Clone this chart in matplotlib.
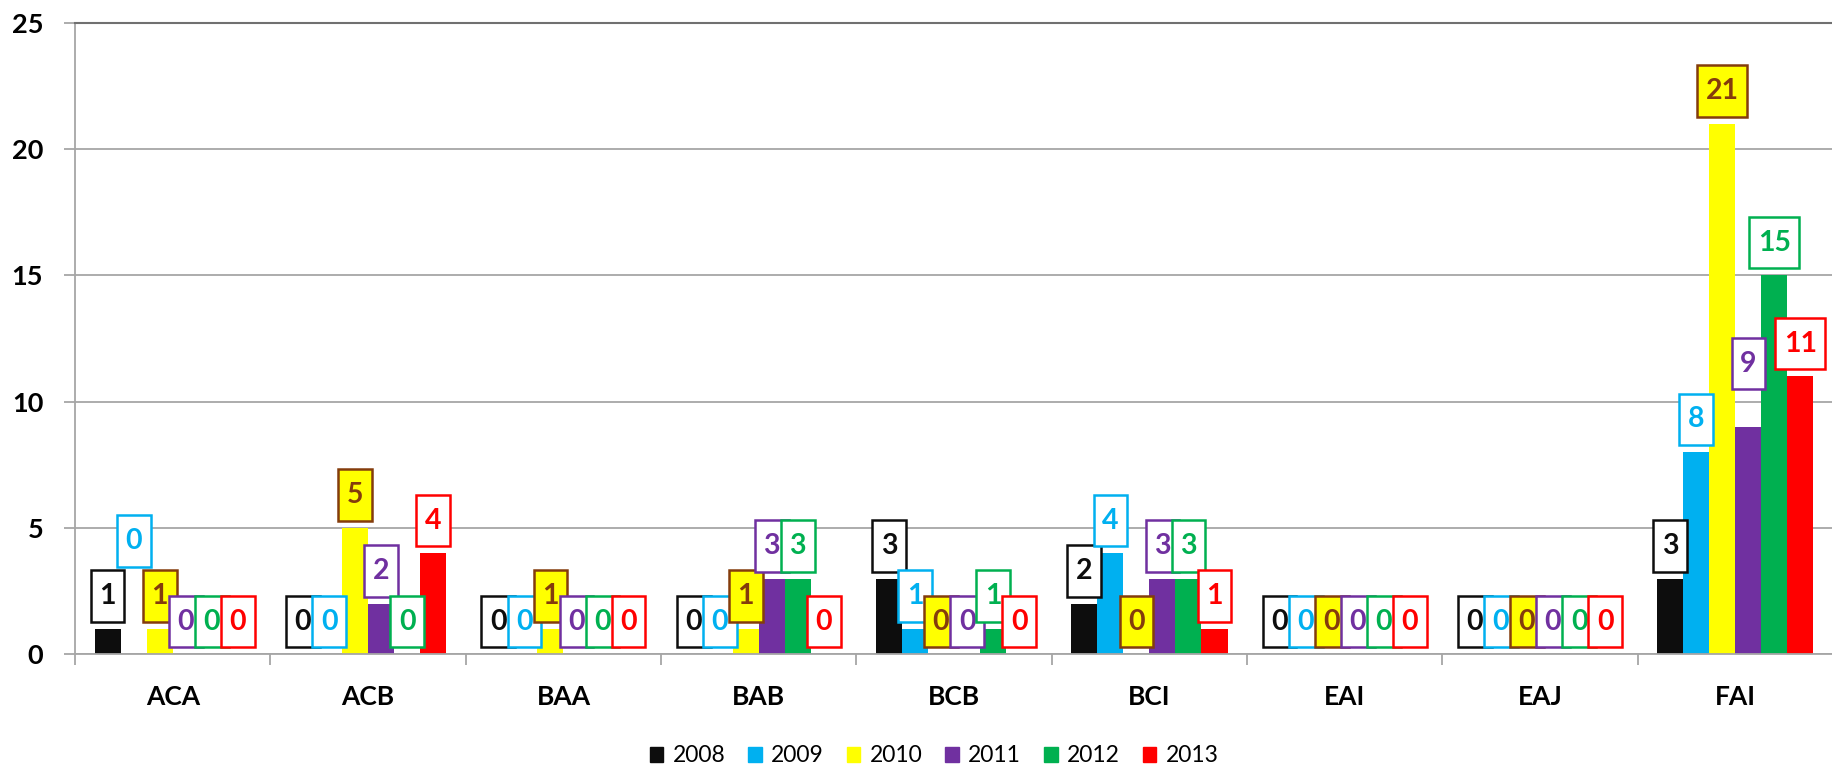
import numpy as np
import matplotlib.pyplot as plt
from matplotlib.patches import Patch
from matplotlib.path import Path

plt.rcParams['font.family'] = ['Lato', 'DejaVu Sans']

codes = ["ACA", "ACB", "BAA", "BAB", "BCB", "BCI", "EAI", "EAJ", "FAI"]
years = ["2008", "2009", "2010", "2011", "2012", "2013"]

v2008 = [1, 0, 0, 0, 3, 2, 0, 0, 3]
v2009 = [0, 0, 0, 0, 1, 4, 0, 0, 8]
v2010 = [1, 5, 1, 1, 0, 0, 0, 0, 21]
v2011 = [0, 2, 0, 3, 0, 3, 0, 0, 9]
v2012 = [0, 0, 0, 3, 1, 3, 0, 0, 15]
v2013 = [0, 4, 0, 0, 0, 1, 0, 0, 11]
series = [v2008, v2009, v2010, v2011, v2012, v2013]

bar_colors = ["#0D0D0D", "#00B0F0", "#FFFF00", "#7030A0", "#00B050", "#FF0000"]
brown = "#843C0C"

# a couple of labels were dragged by hand in the original (points)
label_nudge = {("ACA", "2009"): 58, ("FAI", "2011"): 22}

PADX, PADY = 0.3, 0.45


def label_box(x0, y0, width, height, mutation_size):
    # excel-like label frame: more room above/below than left/right
    px, py = PADX * mutation_size, PADY * mutation_size
    verts = [(x0 - px, y0 - py), (x0 + width + px, y0 - py),
             (x0 + width + px, y0 + height + py), (x0 - px, y0 + height + py),
             (x0 - px, y0 - py)]
    return Path(verts, closed=True)


fig, ax = plt.subplots(figsize=(18.33, 7.68), dpi=100)
fig.subplots_adjust(left=0.041, right=1.0, bottom=0.148, top=0.9705)

x = np.arange(len(codes))
w = 0.8 / 6
fs_lab = 20.5

for i, (yr, vals) in enumerate(zip(years, series)):
    pos = x + (i - 2.5) * w
    ax.bar(pos, vals, w, color=bar_colors[i], label=yr, zorder=2)
    if yr == "2010":
        face, edge = bar_colors[i], brown
    else:
        face, edge = "white", bar_colors[i]
    for j, v in enumerate(vals):
        off = 5 + PADY * fs_lab + label_nudge.get((codes[j], yr), 0)
        ax.annotate(str(v), (pos[j], v), xytext=(0, off), textcoords="offset points",
                    ha="center", va="bottom", fontsize=fs_lab, fontweight="bold",
                    color=edge, zorder=5,
                    bbox=dict(boxstyle=label_box, fc=face, ec=edge, lw=1.8))

ax.set_xlim(-0.5, len(codes) - 0.5)
ax.set_ylim(0, 25)
ax.set_yticks([0, 5, 10, 15, 20, 25])
ax.yaxis.grid(True, color="#A6A6A6", lw=1.3, zorder=0)
ax.set_axisbelow(True)

ax.set_xticks(np.arange(len(codes) + 1) - 0.5)
ax.set_xticklabels([])
ax.set_xticks(x, minor=True)
ax.set_xticklabels(codes, minor=True)
ax.tick_params(axis="x", which="major", length=8, color="#A6A6A6", width=1.3)
ax.tick_params(axis="x", which="minor", length=0, pad=22, labelsize=19)
ax.tick_params(axis="y", length=8, color="#A6A6A6", width=1.3, pad=15, labelsize=19.5)
for t in ax.get_xticklabels(minor=True) + ax.get_yticklabels():
    t.set_fontweight("bold")

for s in ["left", "bottom"]:
    ax.spines[s].set_color("#A6A6A6")
    ax.spines[s].set_linewidth(1.3)
ax.spines["top"].set_color("#707070")
ax.spines["top"].set_linewidth(1.5)
ax.spines["right"].set_visible(False)

handles = [Patch(color=c, label=y) for c, y in zip(bar_colors, years)]
fig.legend(handles=handles, loc="center", bbox_to_anchor=(934 / 1833, 1 - 756 / 768),
           ncol=6, frameon=False, fontsize=16.5, handlelength=0.6, handleheight=0.6,
           handletextpad=0.4, columnspacing=1.0)

fig.savefig("out.png", dpi=100)
